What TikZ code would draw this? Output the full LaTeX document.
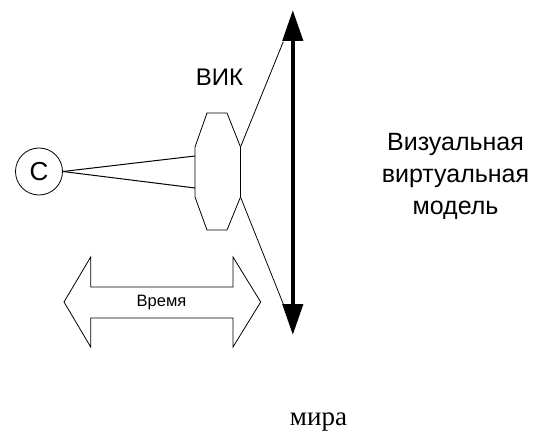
\documentclass[tikz,border=0pt]{standalone}
\usepackage{fontspec}
\setmainfont{Liberation Sans}
\newfontfamily\serifru{Liberation Serif}
\usetikzlibrary{arrows.meta}
\tikzset{
  thinline/.style={line width=0.8pt, black},
  lbl/.style={inner sep=0pt, font=\fontsize{24}{28}\selectfont},
  bigarrow/.style={line width=4.4pt, {Triangle[width=20pt,length=31pt]}-{Triangle[width=20pt,length=31pt]}}
}
\begin{document}
\begin{tikzpicture}[x=1pt,y=-1pt]
\useasboundingbox (0,0) rectangle (537,438);
% circle C
\node[draw, thinline, circle, minimum size=47pt, inner sep=0pt, font=\fontsize{26}{30}\selectfont] (c) at (39,171.5) {C};
% octagon (VIK)
\coordinate (o1) at (207,113);
\coordinate (o2) at (227,113);
\coordinate (o3) at (240.5,147);
\coordinate (o4) at (240.5,197);
\coordinate (o5) at (227,230);
\coordinate (o6) at (207,230);
\coordinate (o7) at (195,197);
\coordinate (o8) at (195,147);
\draw[thinline] (o1) -- (o2) -- (o3) -- (o4) -- (o5) -- (o6) -- (o7) -- (o8) -- cycle;
\coordinate (in1) at (195,156);
\coordinate (in2) at (195,188);
\draw[line width=1pt] (c.east) -- (in1);
\draw[line width=1pt] (c.east) -- (in2);
\node[lbl, anchor=base] (vik) at (219.5,86) {ВИК};
% big vertical double arrow
\coordinate (atop) at (292.8,10);
\coordinate (abot) at (292.8,335);
\draw[bigarrow] (abot) -- (atop);
\coordinate (btl) at (283.3,41.7);
\coordinate (bbl) at (283.3,304);
\draw[thinline] (o3) -- (btl);
\draw[thinline] (o4) -- (bbl);
% time double arrow
\coordinate (t1) at (64,302);
\coordinate (t2) at (90.7,257);
\coordinate (t3) at (90.7,287);
\coordinate (t4) at (233,287);
\coordinate (t5) at (233,257);
\coordinate (t6) at (260.7,302);
\coordinate (t7) at (233,347);
\coordinate (t8) at (233,318);
\coordinate (t9) at (90.7,318);
\coordinate (t10) at (90.7,347);
\draw[thinline] (t1) -- (t2) -- (t3) -- (t4) -- (t5) -- (t6) -- (t7) -- (t8) -- (t9) -- (t10) -- cycle;
\node[inner sep=0pt, font=\fontsize{16.5}{19}\selectfont] (time) at (161.5,302.5) {Время};
% right text
\node[inner sep=0pt, align=center, anchor=north, font=\fontsize{25}{32}\selectfont] (vvm) at (455.5,133.5) {Визуальная\\виртуальная\\модель};
% bottom text
\node[inner sep=0pt, anchor=base, font=\serifru\fontsize{27}{30}\selectfont] (mira) at (318.5,425) {мира};
\end{tikzpicture}
\end{document}
